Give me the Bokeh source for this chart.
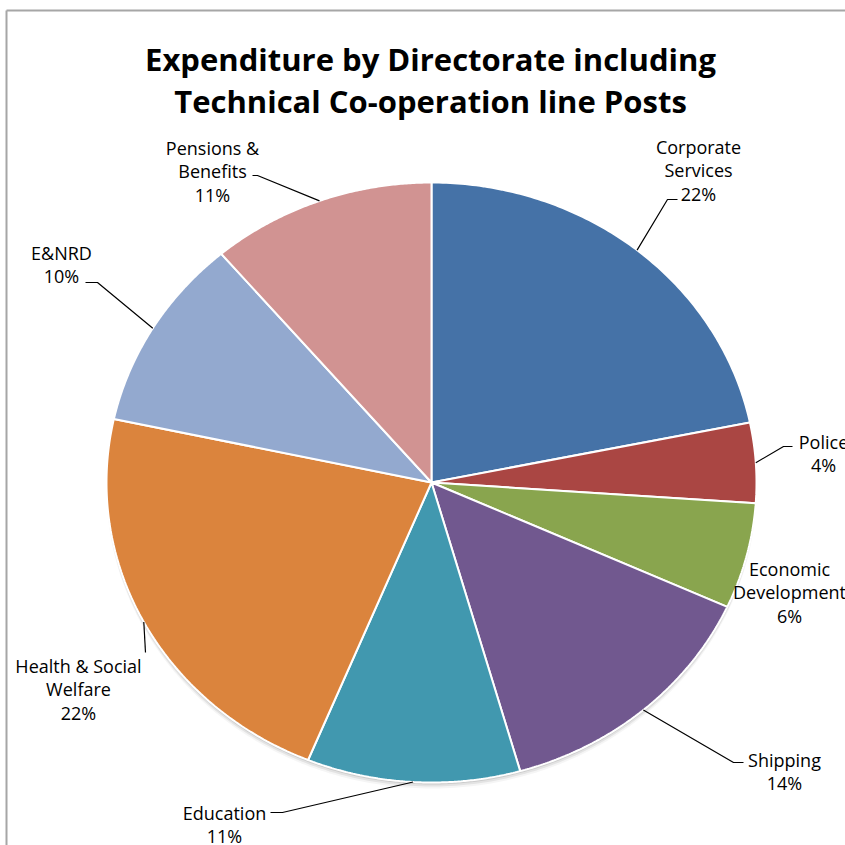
import numpy as np
from bokeh.plotting import figure
from bokeh.models import Range1d
from bokeh.core.properties import value
from bokeh.embed import file_html
from bokeh.resources import INLINE

# ---------------- data ----------------
title_lines = ["Expenditure by Directorate including",
               "Technical Co-operation line Posts"]
categories = ["Corporate Services", "Police", "Economic Development", "Shipping",
              "Education", "Health & Social Welfare", "E&NRD", "Pensions & Benefits"]
shares = [21.8, 4.3, 5.7, 13.8, 10.6, 22.2, 10.4, 11.2]
label_lines = [["Corporate", "Services"], ["Police"], ["Economic", "Development"],
               ["Shipping"], ["Education"], ["Health & Social", "Welfare"],
               ["E&NRD"], ["Pensions &", "Benefits"]]
colors = ["#4572A7", "#AA4643", "#89A54E", "#71588F",
          "#4198AF", "#DB843D", "#93A9CF", "#D19392"]

# ---------------- layout ----------------
W = H = 845
cx, cy, rx, ry = 431, 482, 325, 300
label_pos = [(698, 146), (823, 441), (789, 568), (784, 759),
             (224, 812), (78, 665), (61, 252), (212, 147)]
leader_elbows = [[(677, 199), (667, 199)], [(792, 446), (783, 446)], None,
                 [(743, 762), (733, 762)], [(270, 812), (282, 812)],
                 [(145, 652)], [(85, 282), (97, 282)], [(252, 175), (257, 175)]]
line_h = 23.5
FONT = "Open Sans"

p = figure(width=W, height=H, x_range=Range1d(0, W), y_range=Range1d(H, 0),
           x_axis_type=None, y_axis_type=None, toolbar_location=None,
           output_backend="svg", min_border=0, outline_line_color=None,
           background_fill_color="white", border_fill_color="white")
p.grid.visible = False

# frame
p.segment(x0=[6, 6], y0=[10, 10], x1=[W + 10, 6], y1=[10, H + 10],
          line_color="#a6a6a6", line_width=2)

# shadow
t = np.linspace(0, 2 * np.pi, 400)
for off, a in [(2, 0.10), (4, 0.07), (6, 0.04)]:
    p.patch(cx + rx * np.cos(t), cy + off + ry * np.sin(t),
            fill_color="black", fill_alpha=a, line_color=None)

# slices
total = sum(shares)
fr = np.array(shares) / total
ends = np.cumsum(fr)
starts = ends - fr
xs, ys, mids = [], [], []
for s, e in zip(starts, ends):
    th = np.pi / 2 - 2 * np.pi * np.linspace(s, e, 120)
    xs.append(np.concatenate([[cx], cx + rx * np.cos(th), [cx]]))
    ys.append(np.concatenate([[cy], cy - ry * np.sin(th), [cy]]))
    mids.append(np.pi / 2 - 2 * np.pi * (s + e) / 2)
p.patches(xs, ys, fill_color=colors, line_color="white", line_width=2)

# leader lines
lx, ly = [], []
for m, el in zip(mids, leader_elbows):
    if el is None:
        continue
    px, py = cx + rx * np.cos(m), cy - ry * np.sin(m)
    lx.append([q[0] for q in el] + [px])
    ly.append([q[1] for q in el] + [py])
p.multi_line(lx, ly, line_color="black", line_width=1.2)

# labels
tx, ty, tt = [], [], []
for (x0, y0), lines, sh in zip(label_pos, label_lines, shares):
    allines = lines + [f"{round(sh / total * 100)}%"]
    for i, ln in enumerate(allines):
        tx.append(x0)
        ty.append(y0 + i * line_h)
        tt.append(ln)
p.text(x=tx, y=ty, text=tt, text_align="center", text_baseline="middle",
       text_font=value(FONT), text_font_size="18px", text_color="black")

# title
p.text(x=[430, 430], y=[58, 100], text=title_lines, text_align="center",
       text_baseline="alphabetic", text_font=value(FONT),
       text_font_size="31px", text_font_style="bold", text_color="black")

open("out.html", "w").write(file_html(p, INLINE))
